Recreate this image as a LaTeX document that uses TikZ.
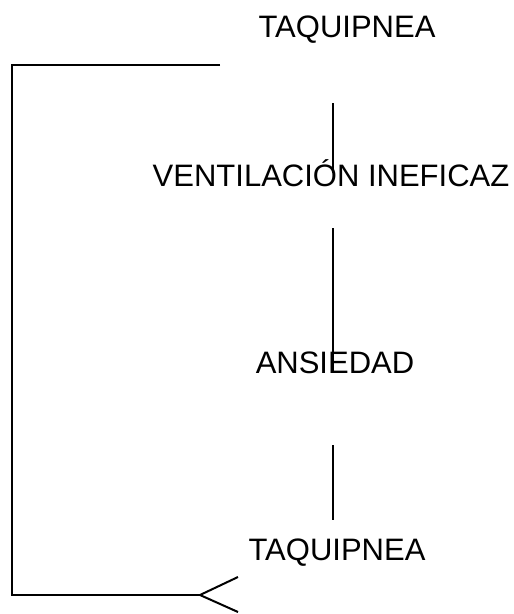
\documentclass[tikz,border=0pt]{standalone}
\usepackage{fontspec}
\setmainfont{Liberation Sans}

\begin{document}
\begin{tikzpicture}[x=1pt, y=-1pt,
  etiqueta/.style={anchor=base, inner sep=0pt, font=\fontsize{31}{36}\selectfont},
  trazo/.style={line width=2pt}]

 \useasboundingbox (0,0) rectangle (514,614) ;

  %%%%%%%%%% Textos %%%%%%%%%%
 \node[etiqueta] (taq1) at (347,37) {TAQUIPNEA} ;
 \node[etiqueta] (vent) at (331,186) {VENTILACIÓN INEFICAZ} ;
 \node[etiqueta] (ansi) at (335,373) {ANSIEDAD} ;
 \node[etiqueta] (taq2) at (337,560) {TAQUIPNEA} ;

  %%%%%%%%%% Puntos para trabajar %%%%%%%%%%
 \coordinate (1) at (333,103) ;
 \coordinate (2) at (333,173) ;
 \coordinate (3) at (333,228) ;
 \coordinate (4) at (333,373) ;
 \coordinate (5) at (333,445) ;
 \coordinate (6) at (333,520) ;
 \coordinate (7) at (220,65) ;
 \coordinate (8) at (12,65) ;
 \coordinate (9) at (12,595) ;
 \coordinate (10) at (200,595) ;
 \coordinate (11) at (238,577) ;
 \coordinate (12) at (238,612) ;

 % Lineas verticales
 \draw [trazo] (1) -- (2) ;
 \draw [trazo] (3) -- (4) ;
 \draw [trazo] (5) -- (6) ;

 % Retorno
 \draw [trazo, line join=miter] (7) -- (8) -- (9) -- (10) ;
 \draw [trazo] (11) -- (10) -- (12) ;

\end{tikzpicture}
\end{document}
